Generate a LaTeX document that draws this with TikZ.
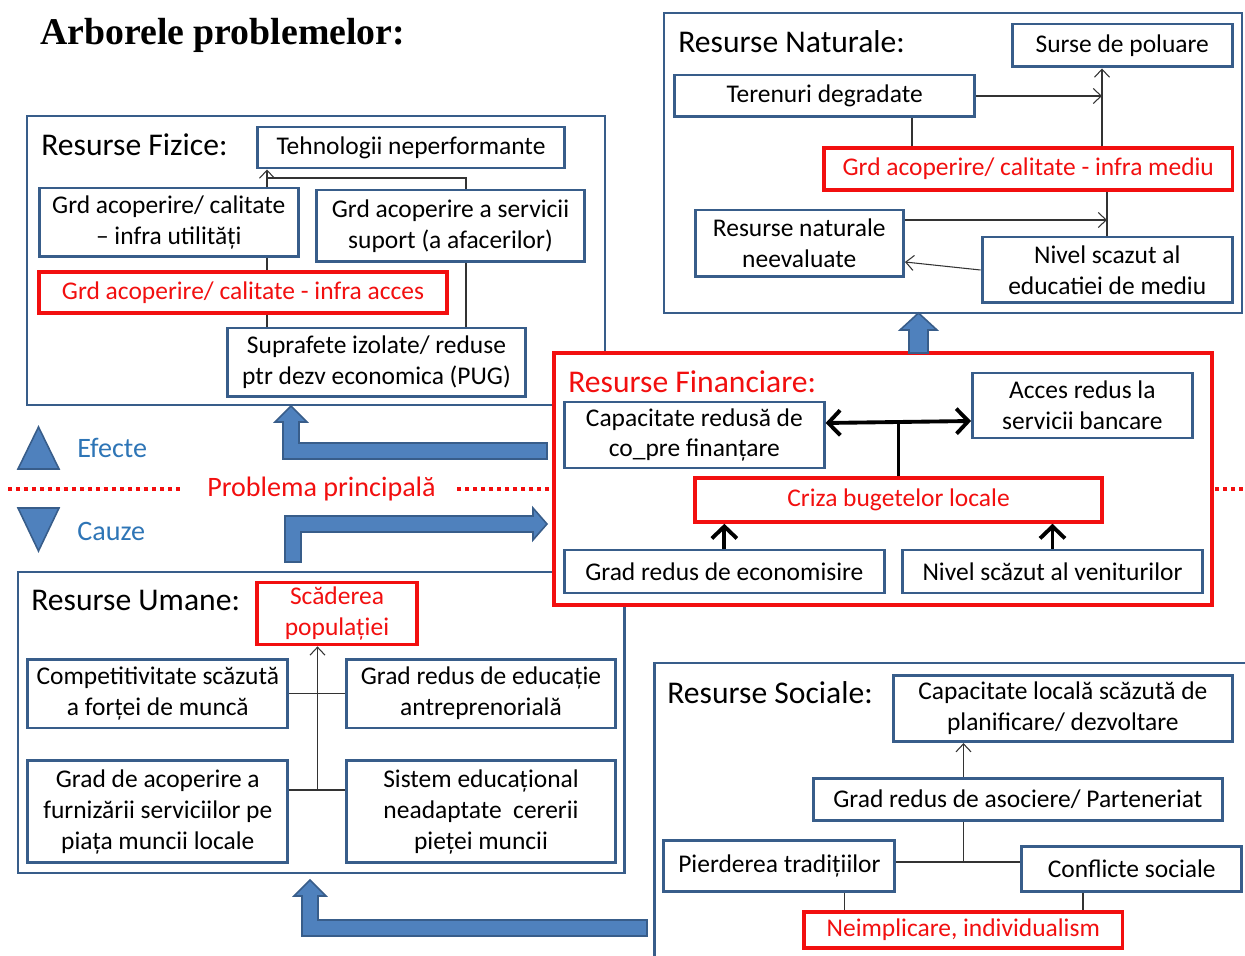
\documentclass[tikz,border=0pt]{standalone}
\usepackage{fontspec}
\setmainfont{Carlito}
\newfontfamily\titlefont{Liberation Serif}
\usetikzlibrary{positioning, arrows.meta}
\definecolor{boxblue}{HTML}{385D8A}
\definecolor{arrowblue}{HTML}{4F81BD}
\definecolor{txtblue}{HTML}{2E75B6}
\definecolor{boxred}{HTML}{F20F0F}

\begin{document}
\begin{tikzpicture}[x=0.02cm,y=-0.02cm,font=\fontsize{14.5}{17.6}\selectfont]
    \tikzset{box/.style={draw=boxblue,line width=1.7pt,fill=white,align=center,inner sep=0pt},
             redbox/.style={draw=boxred,text=boxred,line width=2pt,fill=white,align=center,inner sep=0pt},
             group/.style={draw=boxblue,line width=1.5pt,fill=white,inner sep=0pt},
             head/.style={anchor=west,inner sep=0pt,font=\fontsize{18}{21}\selectfont},
             legend/.style={anchor=west,inner sep=0pt,font=\fontsize{16}{19}\selectfont},
             link/.style={line width=0.6pt,black!80},
             barb/.style={-{Straight Barb[length=1.6mm,width=3mm]}},
             fatlink/.style={line width=2.2pt,black},
             fatbarb/.style={-{Straight Barb[length=2.4mm,width=5mm]}},
             fatboth/.style={{Straight Barb[length=2.4mm,width=5mm]}-{Straight Barb[length=2.4mm,width=5mm]}},
             blockarrow/.style={fill=arrowblue,draw=boxblue,line width=0.9pt},
             dots/.style={boxred,line width=0.07cm,dash pattern=on 0.08cm off 0.08cm}}

    \useasboundingbox (0,0) rectangle (1245,956);

    \node[anchor=west,inner sep=0pt,font=\fontsize{21.5}{25}\selectfont\titlefont\bfseries] (titlu) at (40,35) {Arborele problemelor:};

    % grupuri
    \node[group,minimum width=11.56cm,minimum height=5.78cm] (fiz) at (316,260.5) {};
    \node[group,minimum width=11.56cm,minimum height=6cm] (nat) at (953,163) {};
    \node[group,minimum width=12.13cm,minimum height=6.02cm] (uma) at (321.25,722.5) {};
    \node[group,minimum width=11.91cm,minimum height=6.04cm] (soc) at (952.35,814) {};
    \node[group,draw=boxred,line width=2.3pt,minimum width=13.17cm,minimum height=5.04cm] (fin) at (882.75,479) {};

    % sageti mari
    \filldraw[blockarrow] (547,443) -- (299,443) -- (299,422) -- (307,422) -- (291,406) -- (275,422) -- (283,422) -- (283,459) -- (547,459) -- cycle;
    \filldraw[blockarrow] (285,562) -- (285,516) -- (533,516) -- (533,508) -- (547,524) -- (533,540) -- (533,532) -- (301,532) -- (301,562) -- cycle;
    \filldraw[blockarrow] (647,920) -- (318,920) -- (318,896) -- (326,896) -- (310,880) -- (294,896) -- (302,896) -- (302,936) -- (647,936) -- cycle;
    \filldraw[blockarrow] (909,353) -- (909,330) -- (900,330) -- (918.5,313) -- (937,330) -- (928,330) -- (928,353) -- cycle;

    % efecte / cauze
    \filldraw[blockarrow] (18,469) -- (59,469) -- (38.5,427) -- cycle;
    \filldraw[blockarrow] (18,508) -- (59,508) -- (38.5,551) -- cycle;
    \node[legend,text=txtblue] (efecte) at (77,448) {Efecte};
    \node[legend,text=txtblue] (cauze) at (77,531) {Cauze};
    \node[legend,anchor=center,text=boxred] (problema) at (321.5,489) {Problema principală};
    \draw[dots] (8,489) -- (182,489);
    \draw[dots] (457,489) -- (553,489);
    \draw[dots] (1215,489) -- (1245,489);

    % Resurse Fizice
    \node[head] (fizhead) at (41,145) {Resurse Fizice:};
    \node[box,minimum width=6.16cm,minimum height=0.82cm] (tehno) at (411,147.5) {Tehnologii neperformante};
    \node[box,minimum width=5.19cm,minimum height=1.38cm] (utilit) at (168.75,222.5) {Grd acoperire/ calitate\\– infra utilități};
    \node[box,minimum width=5.38cm,minimum height=1.44cm] (servic) at (450.5,226) {Grd acoperire a servicii\\suport (a afacerilor)};
    \node[redbox,minimum width=8.16cm,minimum height=0.82cm] (acces) at (243,292.5) {Grd acoperire/ calitate - infra acces};
    \node[box,minimum width=5.98cm,minimum height=1.38cm] (supraf) at (376.5,362.5) {Suprafete izolate/ reduse\\ptr dezv economica (PUG)};

    \coordinate (fx) at (267,0);
    \coordinate (sx) at (466,0);
    \coordinate (fj) at (267,178);
    \draw[link] (supraf.north -| fx) -- (acces.south -| fx);
    \draw[link] (acces.north -| fx) -- (utilit.south -| fx);
    \draw[link,barb] (utilit.north -| fx) -- (tehno.south -| fx);
    \draw[link] (supraf.north -| sx) -- (servic.south -| sx);
    \draw[link] (servic.north -| sx) |- (fj);

    % Resurse Naturale
    \node[head] (nathead) at (678,42) {Resurse Naturale:};
    \node[box,minimum width=4.41cm,minimum height=0.86cm] (surse) at (1122.25,45.5) {Surse de poluare};
    \node[box,minimum width=6cm,minimum height=0.84cm] (teren) at (824.6,96) {Terenuri degradate};
    \node[redbox,minimum width=8.17cm,minimum height=0.84cm] (mediu) at (1028.25,169) {Grd acoperire/ calitate - infra mediu};
    \node[box,minimum width=4.17cm,minimum height=1.34cm] (neeval) at (799.25,243.5) {Resurse naturale\\neevaluate};
    \node[box,minimum width=5.01cm,minimum height=1.32cm] (nivel) at (1107.25,270) {Nivel scazut al\\educatiei de mediu};

    \coordinate (nx) at (1102,0);
    \coordinate (tx) at (912,0);
    \coordinate (vx) at (1107,0);
    \coordinate (ny) at (0,220);
    \draw[link,barb] (teren.east) -- (teren.east -| nx);
    \draw[link,barb] (mediu.north -| nx) -- (surse.south -| nx);
    \draw[link] (teren.south -| tx) -- (mediu.north -| tx);
    \draw[link] (nivel.north -| vx) -- (mediu.south -| vx);
    \draw[link,barb] (neeval.east |- ny) -- (vx |- ny);
    \draw[link,barb] (nivel.west) -- ([yshift=-0.37cm]neeval.east);

    % Resurse Financiare
    \node[head,text=boxred] (finhead) at (568,382) {Resurse Financiare:};
    \node[box,minimum width=5.19cm,minimum height=1.32cm] (capac) at (694.35,435) {Capacitate redusă de\\co\_pre finanțare};
    \node[box,minimum width=4.39cm,minimum height=1.3cm] (bancar) at (1082.3,405.5) {Acces redus la\\servicii bancare};
    \node[redbox,minimum width=8.14cm,minimum height=0.88cm] (criza) at (898.5,500) {Criza bugetelor locale};
    \node[box,minimum width=6.39cm,minimum height=0.86cm] (econ) at (724.35,571.5) {Grad redus de economisire};
    \node[box,minimum width=6.02cm,minimum height=0.86cm] (venit) at (1052.5,571.5) {Nivel scăzut al veniturilor};

    \draw[fatlink,fatboth] ([yshift=0.24cm]capac.east) -- ([yshift=-0.31cm]bancar.west);
    \draw[fatlink] (criza.north) -- ++(0,-53);
    \draw[fatlink,fatbarb] (econ.north) -- (econ.north |- criza.south);
    \draw[fatlink,fatbarb] (venit.north) -- (venit.north |- criza.south);

    % Resurse Umane
    \node[head] (umahead) at (31,600) {Resurse Umane:};
    \node[redbox,minimum width=3.2cm,minimum height=1.24cm] (scad) at (337,613.65) {Scăderea\\populației};
    \node[box,minimum width=5.2cm,minimum height=1.38cm] (compet) at (157.8,693.5) {Competitivitate scăzută\\a forței de muncă};
    \node[box,minimum width=5.4cm,minimum height=1.38cm] (antrep) at (481,693.5) {Grad redus de educație\\antreprenorială};
    \node[box,minimum width=5.2cm,minimum height=2.04cm] (furniz) at (157.8,811.9) {Grad de acoperire a\\furnizării serviciilor pe\\piața muncii locale};
    \node[box,minimum width=5.4cm,minimum height=2.04cm] (sistem) at (481,811.9) {Sistem educațional\\neadaptate~ cererii\\pieței muncii};

    \coordinate (uj) at (317.5,790);
    \draw[link] (compet.east) -- (antrep.west);
    \draw[link] (furniz.east |- uj) -- (sistem.west |- uj);
    \draw[link,barb] (uj) -- (uj |- scad.south);

    % Resurse Sociale
    \node[head] (sochead) at (667,693) {Resurse Sociale:};
    \node[box,minimum width=6.79cm,minimum height=1.33cm] (planif) at (1062.85,708.35) {Capacitate locală scăzută de\\planificare/ dezvoltare};
    \node[box,minimum width=8.17cm,minimum height=0.85cm] (asoc) at (1017.85,799.35) {Grad redus de asociere/ Parteneriat};
    \node[box,minimum width=4.62cm,minimum height=1.03cm] (pierd) at (779.4,865.85) {Pierderea tradițiilor};
    \node[box,minimum width=4.41cm,minimum height=0.91cm] (confl) at (1131.75,868.85) {Conflicte sociale};
    \node[redbox,minimum width=6.37cm,minimum height=0.73cm] (neimp) at (963.3,930) {Neimplicare, individualism};

    \coordinate (sj) at (963.5,862);
    \coordinate (px) at (844.6,0);
    \coordinate (cx) at (1083,0);
    \draw[link,barb] (asoc.north -| sj) -- (planif.south -| sj);
    \draw[link] (asoc.south -| sj) -- (sj);
    \draw[link] (pierd.east |- sj) -- (confl.west |- sj);
    \draw[link] (pierd.south -| px) -- (neimp.north -| px);
    \draw[link] (confl.south -| cx) -- (neimp.north -| cx);

\end{tikzpicture}
\end{document}
